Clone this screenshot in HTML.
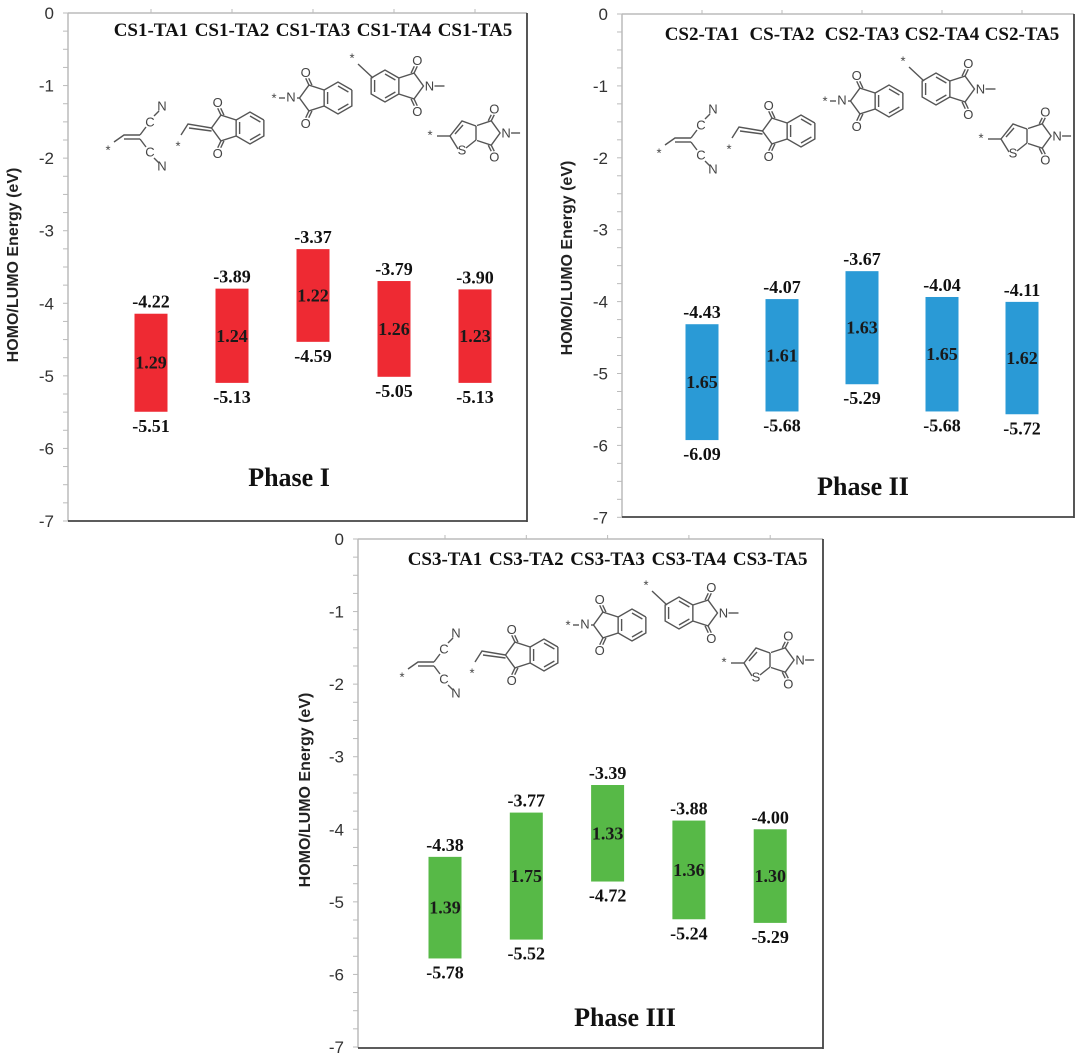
<!DOCTYPE html>
<html><head><meta charset="utf-8"><style>
html,body{margin:0;padding:0;background:#fff;}
svg{display:block;}
.tick{font-family:"Liberation Sans",sans-serif;font-size:17px;fill:#333;}
.ytitle{font-family:"Liberation Sans",sans-serif;font-size:16px;font-weight:bold;fill:#222;}
.nm{font-family:"Liberation Serif",serif;font-size:19px;font-weight:bold;fill:#111;}
.val{font-family:"Liberation Serif",serif;font-size:18px;font-weight:bold;fill:#111;}
.gap{font-family:"Liberation Serif",serif;font-size:18px;font-weight:bold;fill:#1a1a1a;}
.phase{font-family:"Liberation Serif",serif;font-size:26px;font-weight:bold;fill:#111;}
.at{font-family:"Liberation Sans",sans-serif;font-size:13px;fill:#444;}
</style></head><body>
<svg id="fig" width="1081" height="1061" viewBox="0 0 1081 1061" xmlns="http://www.w3.org/2000/svg"></svg>
<script>
// ---- data ----
const names1=["CS1-TA1","CS1-TA2","CS1-TA3","CS1-TA4","CS1-TA5"];
const lumo1=[-4.22,-3.89,-3.37,-3.79,-3.90];
const homo1=[-5.51,-5.13,-4.59,-5.05,-5.13];
const gap1=["1.29","1.24","1.22","1.26","1.23"];
const names2=["CS2-TA1","CS-TA2","CS2-TA3","CS2-TA4","CS2-TA5"];
const lumo2=[-4.43,-4.07,-3.67,-4.04,-4.11];
const homo2=[-6.09,-5.68,-5.29,-5.68,-5.72];
const gap2=["1.65","1.61","1.63","1.65","1.62"];
const names3=["CS3-TA1","CS3-TA2","CS3-TA3","CS3-TA4","CS3-TA5"];
const lumo3=[-4.38,-3.77,-3.39,-3.88,-4.00];
const homo3=[-5.78,-5.52,-4.72,-5.24,-5.29];
const gap3=["1.39","1.75","1.33","1.36","1.30"];
const yTicks=[0,-1,-2,-3,-4,-5,-6,-7];

const NS="http://www.w3.org/2000/svg";
const svg=document.getElementById('fig');
function mk(tag,attrs,parent,text){const e=document.createElementNS(NS,tag);for(const k in attrs)e.setAttribute(k,attrs[k]);if(text!==undefined)e.textContent=text;(parent||svg).appendChild(e);return e;}

const panels=[
 {id:1,names:names1,lumo:lumo1,homo:homo1,gap:gap1,color:"#ee2a33",left:68,top:13,right:527,bottom:521,
  ax0:13,axK:72.57,bar0:-7,barK:76,x0:151,step:81,phase:"Phase I",px:289,py:486,tx:18,ty:265,nameY:36,mdx:0,mdy:0},
 {id:2,names:names2,lumo:lumo2,homo:homo2,gap:gap2,color:"#2a9ad6",left:622,top:14,right:1074,bottom:517,
  ax0:14,axK:71.9,bar0:15,barK:69.8,x0:702,step:80,phase:"Phase II",px:863,py:495,tx:572,ty:258,nameY:40,mdx:551,mdy:3},
 {id:3,names:names3,lumo:lumo3,homo:homo3,gap:gap3,color:"#57b947",left:358,top:539,right:823,bottom:1048,
  ax0:539,axK:72.57,bar0:539,barK:72.57,x0:445,step:81.3,phase:"Phase III",px:625,py:1026,tx:310,ty:790,nameY:565,mdx:294,mdy:527}
];

// ---- molecule helpers ----
function pl(g,pts){mk('polyline',{points:pts.map(p=>p.join(',')).join(' '),fill:'none',stroke:'#555','stroke-width':1.4},g);}
function ln(g,a,b){mk('line',{x1:a[0],y1:a[1],x2:b[0],y2:b[1],stroke:'#555','stroke-width':1.4},g);}
function tx(g,x,y,s,sz){const t=mk('text',{x:x,y:y,class:'at','text-anchor':'middle','dominant-baseline':'central'},g,s);if(sz)t.setAttribute('font-size',sz);return t;}
function hexPts(cx,cy,r){const p=[];for(let i=0;i<6;i++){const a=(30+60*i)*Math.PI/180;p.push([cx+r*Math.cos(a),cy-r*Math.sin(a)]);}return p;}
function benzene(g,cx,cy,r){const p=hexPts(cx,cy,r);pl(g,p.concat([p[0]]));
 const s=0.75;[[0,1],[2,3],[4,5]].forEach(([i,j])=>{ln(g,[cx+(p[i][0]-cx)*s,cy+(p[i][1]-cy)*s],[cx+(p[j][0]-cx)*s,cy+(p[j][1]-cy)*s]);});}
// fused 5-ring on side dir (-1 left, +1 right) of hexagon with center cx,cy radius r
function fused5(g,cx,cy,r,dir){const xe=cx+dir*r*Math.cos(Math.PI/6);const Px=xe+dir*0.688*r;
 const up=[Px+dir*0.263*r,cy-0.809*r],dn=[Px+dir*0.263*r,cy+0.809*r],apex=[Px+dir*0.851*r,cy];
 pl(g,[[xe,cy-r/2],up,apex,dn,[xe,cy+r/2]]);
 const ou=[up[0]+dir*0.2*r,up[1]-0.8*r],od=[dn[0]+dir*0.2*r,dn[1]+0.8*r];
 ln(g,up,[ou[0],ou[1]+6]);ln(g,[up[0]-dir*3,up[1]],[ou[0]-dir*3,ou[1]+6]);
 ln(g,dn,[od[0],od[1]-6]);ln(g,[dn[0]-dir*3,dn[1]],[od[0]-dir*3,od[1]-6]);
 tx(g,ou[0],ou[1],'O',14);tx(g,od[0],od[1],'O',14);return apex;}

function drawMolecules(P){
 const g=mk('g',{transform:`translate(${P.mdx},${P.mdy})`});
 
 
 // TA1 dicyanovinyl
 tx(g,108,150,'*',12);pl(g,[[114,142],[124,135],[140,135]]);ln(g,[124,139],[140,139]);
 ln(g,[140,135],[146,127]);tx(g,150,122,'C');tx(g,162,106,'N');ln(g,[154,116],[159,111]);
 ln(g,[140,139],[146,147]);tx(g,150,152,'C');tx(g,162,166,'N');ln(g,[154,158],[159,163]);
 // TA2 indandione
 tx(g,178,146,'*',12);const a2=fused5(g,250,128,16,-1);pl(g,[[181,135],[188,124],[a2[0],a2[1]]]);ln(g,[189,128],[a2[0],a2[1]+3]);benzene(g,250,128,16);
 // TA3 N-phthalimide
 tx(g,274,98,'*',12);tx(g,291,97,'N',14);ln(g,[279,98],[285,98]);const a3=fused5(g,338,98,16,-1);ln(g,[297,98],[a3[0],a3[1]]);benzene(g,338,98,16);
 // TA4
 tx(g,352,58,'*',12);benzene(g,385,86,16);ln(g,[358,64],[373,78]);const a4=fused5(g,385,86,16,1);tx(g,a4[0]+6,86,'N',14);ln(g,[a4[0]+11,86],[a4[0]+21,86]);
 // TA5 thienopyrrole dione
 tx(g,430,135,'*',12);ln(g,[437,136],[450,136]);
 pl(g,[[476,126],[462,121],[450,136],[458,149]]);ln(g,[466,148],[476,140]);ln(g,[476,126],[476,140]);ln(g,[455,134],[463,125]);
 tx(g,462,150,'S',14);
 const a5=fused5(g,464,133,15,1);tx(g,a5[0]+6,133,'N',14);ln(g,[a5[0]+11,133],[a5[0]+20,133]);
}

panels.forEach(P=>{
 const g=mk('g',{});
 
 
 const yA=v=>P.ax0-P.axK*v;
 const yB=v=>P.bar0-P.barK*v;
 const xS=i=>P.x0+P.step*i;
 mk('line',{x1:P.left,y1:P.top,x2:P.right,y2:P.top,stroke:'#bbb','stroke-width':1.5},g);
 mk('line',{x1:P.left,y1:P.top,x2:P.left,y2:P.bottom,stroke:'#bbb','stroke-width':1.5},g);
 mk('line',{x1:P.right,y1:P.top,x2:P.right,y2:P.bottom+1,stroke:'#444','stroke-width':1.8},g);
 mk('line',{x1:P.left,y1:P.bottom,x2:P.right,y2:P.bottom,stroke:'#444','stroke-width':1.8},g);
 for(let k=0;k<=28;k++){const y=yA(-k/4);mk('line',{x1:P.left-5,y1:y,x2:P.left,y2:y,stroke:'#bbb','stroke-width':1},g);}
 yTicks.forEach(v=>{const t=mk('text',{x:P.left-14,y:yA(v)+6,class:'tick','text-anchor':'end'},g,String(v));
   });
 P.names.forEach((n,i)=>{mk('line',{x1:xS(i),y1:P.top,x2:xS(i),y2:P.top-4,stroke:'#bbb','stroke-width':1},g);});
 const yt=mk('text',{x:P.tx,y:P.ty,class:'ytitle','text-anchor':'middle',transform:`rotate(-90 ${P.tx} ${P.ty})`},g,'HOMO/LUMO Energy (eV)');
 
 P.names.forEach((n,i)=>{const t=mk('text',{x:xS(i),y:P.nameY,class:'nm','text-anchor':'middle'},g,n);
   });
 P.names.forEach((n,i)=>{
  const y1=yB(P.lumo[i]),y2=yB(P.homo[i]),x=xS(i);
  const r=mk('rect',{x:x-16.5,y:y1,width:33,height:y2-y1,fill:P.color},g);
  
  const tl=mk('text',{x:x,y:y1-6,class:'val','text-anchor':'middle'},g,P.lumo[i].toFixed(2));
  
  const bl=mk('text',{x:x,y:y2+20,class:'val','text-anchor':'middle'},g,P.homo[i].toFixed(2));
  
  const gl=mk('text',{x:x,y:(y1+y2)/2+6,class:'gap','text-anchor':'middle'},g,P.gap[i]);
  
 });
 const ph=mk('text',{x:P.px,y:P.py,class:'phase','text-anchor':'middle'},g,P.phase);
 
 drawMolecules(P);
});
</script>
</body></html>
